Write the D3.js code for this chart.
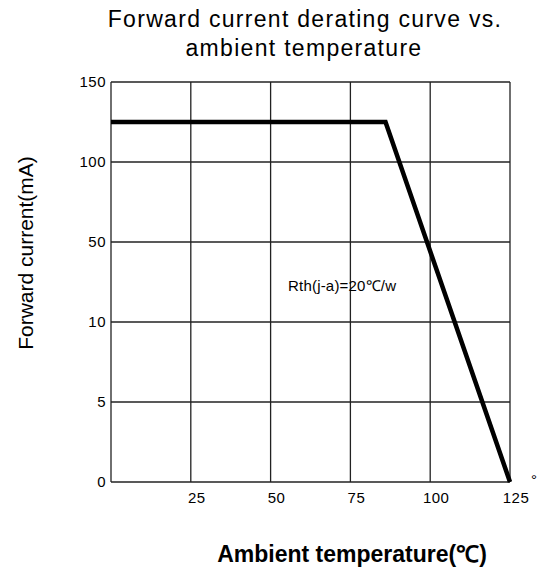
<!DOCTYPE html>
<html>
<head>
<meta charset="utf-8">
<script src="https://cdn.jsdelivr.net/npm/d3@7"></script>
<style>
  body { margin: 0; background: #fff; }
  text { font-family: "Liberation Sans", Arial, sans-serif; fill: #000; }
</style>
</head>
<body>
<svg id="chart" width="549" height="569"></svg>
<script>
// Data
const temps = [0, 86, 125];          // ambient temperature (°C)
const currents = [125, 125, 0];      // forward current (mA)
const xTicks = [25, 50, 75, 100, 125];
const yTicks = [0, 5, 10, 50, 100, 150];

const margin = {top: 82, left: 111, right: 39, bottom: 87};
const width = 549;
const height = 569;
const plotW = width - margin.left - margin.right;
const plotH = height - margin.top - margin.bottom;

const svg = d3.select("#chart");

// x is linear, y is an uneven (piecewise) scale: every tick gets the same spacing
const x = d3.scaleLinear().domain([0, 125]).range([margin.left, margin.left + plotW]);
const y = d3.scaleLinear()
  .domain(yTicks)
  .range(yTicks.map((d, i) => margin.top + plotH - i * plotH / (yTicks.length - 1)));

// Grid
const grid = svg.append("g").attr("stroke", "#222").attr("stroke-width", 1.3);
grid.selectAll("line.v").data(xTicks).enter().append("line")
  .attr("x1", d => x(d)).attr("x2", d => x(d))
  .attr("y1", y(150)).attr("y2", y(0));
grid.selectAll("line.h").data(yTicks).enter().append("line")
  .attr("x1", x(0)).attr("x2", x(125))
  .attr("y1", d => y(d)).attr("y2", d => y(d));
// axis frame
grid.append("line").attr("x1", x(0)).attr("x2", x(0)).attr("y1", y(150)).attr("y2", y(0));

// Tick labels
svg.selectAll("text.yt").data(yTicks).enter().append("text")
  .attr("x", margin.left - 5)
  .attr("y", d => y(d) + 5)
  .attr("text-anchor", "end")
  .attr("font-size", "15px")
  .attr("letter-spacing", "0.5px")
  .text(d => d);

svg.selectAll("text.xt").data(xTicks).enter().append("text")
  .attr("x", d => x(d) + 6)
  .attr("y", y(0) + 21)
  .attr("text-anchor", "middle")
  .attr("font-size", "15px")
  .attr("letter-spacing", "0.5px")
  .text(d => d);

// small degree mark beside the last tick
svg.append("text")
  .attr("x", x(125) + 21).attr("y", y(0) + 3)
  .attr("font-size", "15px")
  .text("°");

// Derating curve
const line = d3.line().x(d => x(d[0])).y(d => y(d[1]));
svg.append("path")
  .datum(temps.map((t, i) => [t, currents[i]]))
  .attr("d", line)
  .attr("fill", "none")
  .attr("stroke", "#000")
  .attr("stroke-width", 4.5)
  .attr("stroke-linejoin", "miter");

// Annotation
svg.append("text")
  .attr("x", 288).attr("y", 291)
  .attr("font-size", "15px")
  .attr("letter-spacing", "0.2px")
  .text("Rth(j-a)=20℃/w");

// Titles
const title = svg.append("text")
  .attr("text-anchor", "middle")
  .attr("font-size", "23px")
  .attr("letter-spacing", "1.3px");
title.append("tspan").attr("x", 305).attr("y", 27).text("Forward current derating curve vs.");
title.append("tspan").attr("x", 304).attr("y", 56).text("ambient temperature");

svg.append("text")
  .attr("transform", "translate(33,253) rotate(-90)")
  .attr("text-anchor", "middle")
  .attr("font-size", "21px")
  .attr("fill", "#333")
  .text("Forward current(mA)");

svg.append("text")
  .attr("x", 352).attr("y", 562)
  .attr("text-anchor", "middle")
  .attr("font-size", "23px")
  .attr("font-weight", "bold")
  .text("Ambient temperature(℃)");
</script>
</body>
</html>
